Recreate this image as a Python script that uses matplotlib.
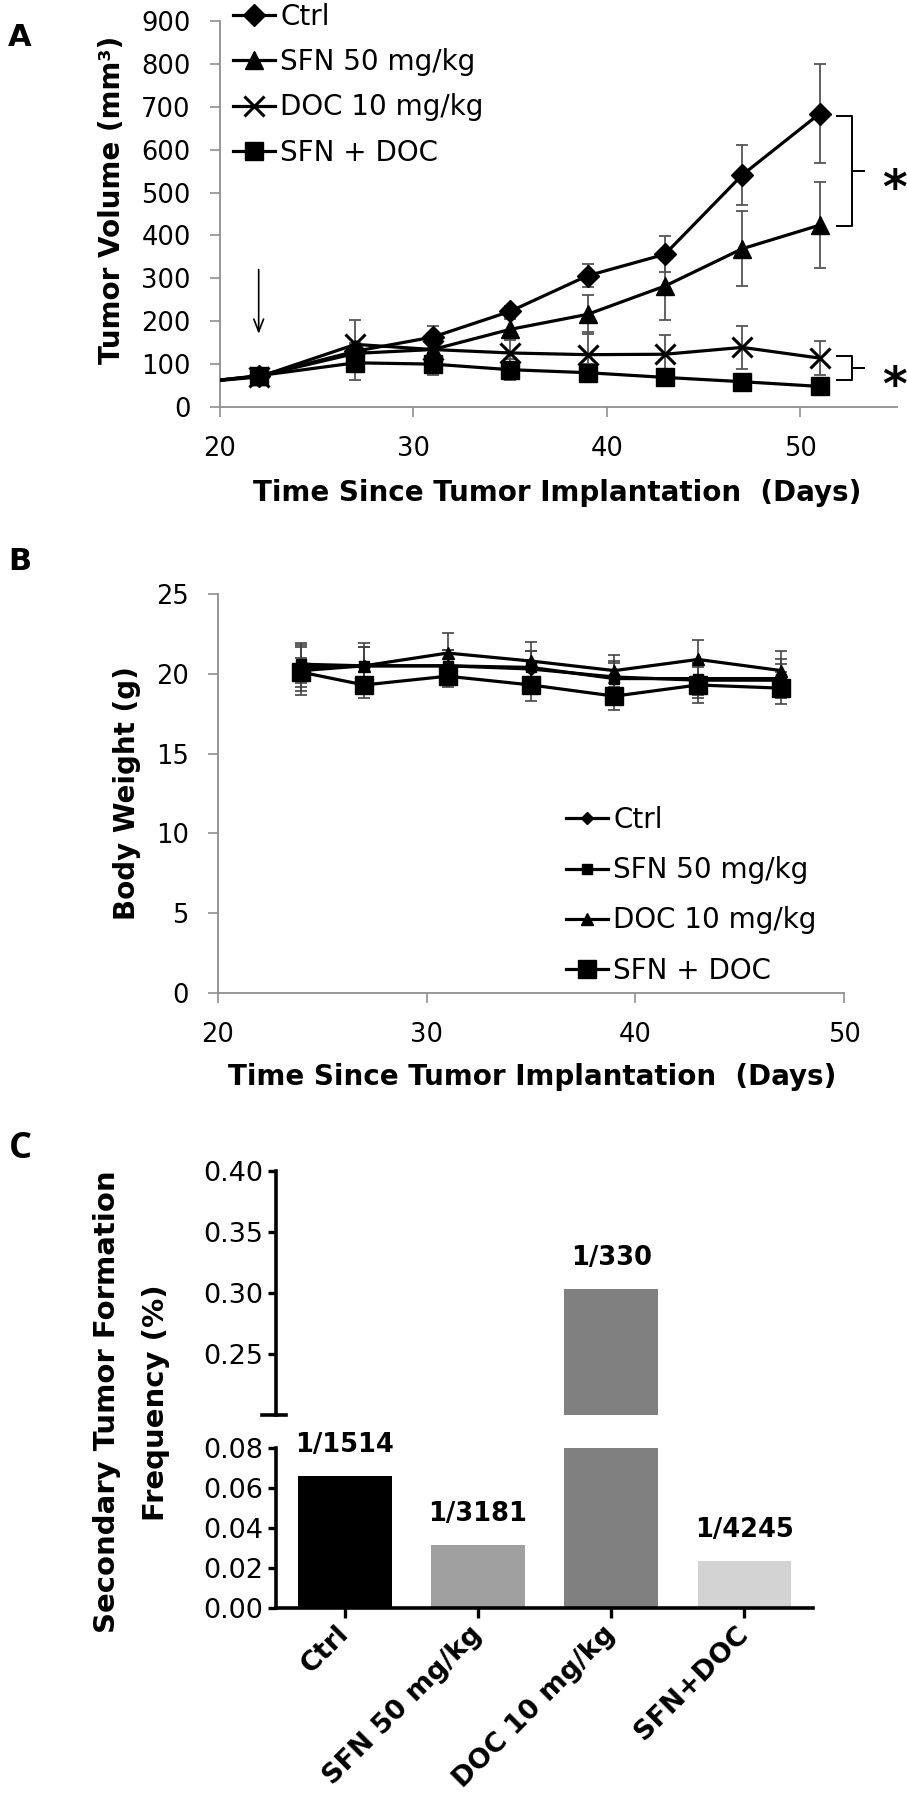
import matplotlib
matplotlib.use('Agg')
import matplotlib.pyplot as plt
from matplotlib.ticker import FormatStrFormatter

plt.rcParams['font.family'] = ['DejaVu Sans']

# ---------------- data ----------------
# Panel A: tumor volume (mm^3)
days_a = [19, 22, 27, 31, 35, 39, 43, 47, 51]
ctrl_a = [58, 72, 130, 163, 223, 306, 356, 541, 684]
ctrl_a_err = [0, 10, 20, 25, 12, 27, 42, 69, 115]
sfn_a = [58, 72, 125, 134, 181, 216, 282, 369, 424]
sfn_a_err = [0, 10, 20, 20, 25, 45, 80, 87, 100]
doc_a = [58, 70, 146, 134, 126, 122, 123, 139, 114]
doc_a_err = [0, 8, 57, 25, 40, 53, 44, 51, 40]
combo_a = [58, 73, 103, 100, 87, 80, 69, 59, 48]
combo_a_err = [0, 8, 40, 25, 25, 20, 15, 15, 20]
labels_a = ['Ctrl', 'SFN 50 mg/kg', 'DOC 10 mg/kg', 'SFN + DOC']

# Panel B: body weight (g)
days_b = [24, 27, 31, 35, 39, 43, 47]
ctrl_b = [20.2, 20.5, 20.5, 20.3, 19.8, 19.6, 19.6]
ctrl_b_err = [1.5, 1.2, 1.0, 1.1, 1.0, 1.1, 1.0]
sfn_b = [20.6, 20.5, 20.5, 20.4, 19.7, 19.7, 19.7]
sfn_b_err = [1.2, 1.2, 1.0, 1.0, 1.0, 1.0, 1.2]
doc_b = [20.4, 20.5, 21.3, 20.8, 20.2, 20.9, 20.2]
doc_b_err = [1.5, 1.4, 1.25, 1.2, 1.0, 1.2, 1.2]
combo_b = [20.1, 19.3, 19.85, 19.3, 18.6, 19.3, 19.1]
combo_b_err = [0.9, 0.8, 0.7, 1.0, 0.85, 1.1, 1.0]
labels_b = ['Ctrl', 'SFN 50 mg/kg', 'DOC 10 mg/kg', 'SFN + DOC']

# Panel C: secondary tumor formation frequency (%)
groups_c = ['Ctrl', 'SFN 50 mg/kg', 'DOC 10 mg/kg', 'SFN+DOC']
freq_c = [0.066, 0.0314, 0.303, 0.0236]
ratio_c = ['1/1514', '1/3181', '1/330', '1/4245']
colors_c = ['#000000', '#a0a0a0', '#808080', '#d3d3d3']

# ---------------- figure ----------------
W, H = 907, 1800
fig = plt.figure(figsize=(W / 100, H / 100), dpi=100)


def rect(l, t, r, b):
    return [l / W, 1 - b / H, (r - l) / W, (b - t) / H]


GREY = '#8f8f8f'


def style_xy(ax):
    for s in ['top', 'right']:
        ax.spines[s].set_visible(False)
    for s in ['left', 'bottom']:
        ax.spines[s].set_color(GREY)
        ax.spines[s].set_linewidth(1.3)
    ax.tick_params(axis='both', colors=GREY, labelcolor='black', width=1.2,
                   length=7.5, labelsize=18.5, pad=13.5)


# ---------------- Panel A ----------------
axA = fig.add_axes(rect(220, 21, 897, 407))
style_xy(axA)
series_a = [
    (ctrl_a, ctrl_a_err, 'D', 11.5),
    (sfn_a, sfn_a_err, '^', 13),
    (doc_a, doc_a_err, 'x', 14),
    (combo_a, combo_a_err, 's', 13),
]
handles_a = []
for (vals, err, mk, ms), lab in zip(series_a, labels_a):
    axA.errorbar(days_a[1:], vals[1:], yerr=err[1:], fmt='none',
                 ecolor='#555555', elinewidth=1.3, capsize=4, capthick=1.3,
                 zorder=2)
    ln, = axA.plot(days_a, vals, color='black', lw=2.3, marker=mk, ms=ms,
                   mew=2.2 if mk == 'x' else 1, mfc='black', mec='black',
                   markevery=list(range(1, len(days_a))), zorder=3, label=lab)
    handles_a.append(ln)
axA.set_xlim(20, 55)
axA.set_ylim(0, 900)
axA.set_xticks([20, 30, 40, 50])
axA.set_yticks(range(0, 901, 100))
axA.set_ylabel('Tumor Volume (mm³)', fontsize=20, fontweight='bold')
axA.yaxis.label.set_va('center')
axA.yaxis.set_label_coords(-0.1595, 0.536)
axA.set_xlabel('Time Since Tumor Implantation  (Days)', fontsize=20,
               fontweight='bold')
axA.xaxis.label.set_va('center')
axA.xaxis.set_label_coords(0.498, -0.2228)

# arrow at treatment start
axA.annotate('', xy=(days_a[1], 164), xytext=(days_a[1], 327),
             arrowprops=dict(arrowstyle='->,head_length=0.9,head_width=0.35',
                             color='black', lw=1.2))

# significance brackets
def bracket(ax, x0, x1, x2, ytop, ybot):
    ymid = (ytop + ybot) / 2
    kw = dict(color='black', lw=1.4, clip_on=False, solid_capstyle='butt')
    ax.plot([x0, x1, x1, x2], [ytop, ytop, ymid, ymid], **kw)
    ax.plot([x1, x1, x0], [ymid, ybot, ybot], **kw)

bracket(axA, 51.85, 52.65, 53.35, ctrl_a[-1] - 5, sfn_a[-1] - 3)
bracket(axA, 51.85, 52.65, 53.35, doc_a[-1] + 4, combo_a[-1] + 16)
axA.text(54.85, 505, '*', fontsize=34, fontweight='bold', ha='center',
         va='center', clip_on=False)
axA.text(54.85, 45, '*', fontsize=34, fontweight='bold', ha='center',
         va='center', clip_on=False)

axA.legend(handles_a, labels_a, loc='upper left',
           bbox_to_anchor=(233 / W, 1 - 3 / H), bbox_transform=fig.transFigure,
           frameon=False, borderpad=0, borderaxespad=0, handlelength=1.5,
           handletextpad=0.2, labelspacing=0.62, fontsize=20)

# ---------------- Panel B ----------------
axB = fig.add_axes(rect(218, 594, 844, 993))
style_xy(axB)
series_b = [
    (ctrl_b, ctrl_b_err, 'D', 6),
    (sfn_b, sfn_b_err, 's', 7),
    (doc_b, doc_b_err, '^', 8),
    (combo_b, combo_b_err, 's', 13),
]
handles_b = []
for (vals, err, mk, ms), lab in zip(series_b, labels_b):
    axB.errorbar(days_b, vals, yerr=err, fmt='none', ecolor='#444444',
                 elinewidth=1.2, capsize=4, capthick=1.2, zorder=2)
    ln, = axB.plot(days_b, vals, color='black', lw=2.3, marker=mk, ms=ms,
                   mfc='black', mec='black', zorder=3, label=lab)
    handles_b.append(ln)
axB.set_xlim(20, 50)
axB.set_ylim(0, 25)
axB.set_xticks([20, 30, 40, 50])
axB.set_yticks(range(0, 26, 5))
axB.set_ylabel('Body Weight (g)', fontsize=20, fontweight='bold')
axB.yaxis.label.set_va('center')
axB.yaxis.set_label_coords(-0.1454, 0.5)
axB.set_xlabel('Time Since Tumor Implantation  (Days)', fontsize=20,
               fontweight='bold')
axB.xaxis.label.set_va('center')
axB.xaxis.set_label_coords(0.5016, -0.2105)
axB.legend(handles_b, labels_b, loc='upper left',
           bbox_to_anchor=(566 / W, 1 - 806 / H), bbox_transform=fig.transFigure,
           frameon=False, borderpad=0, borderaxespad=0, handlelength=1.5,
           handletextpad=0.2, labelspacing=0.8, fontsize=20)

# ---------------- Panel C ----------------
xpos = list(range(len(groups_c)))
axCl = fig.add_axes(rect(276, 1448, 813, 1608))
axCu = fig.add_axes(rect(276, 1171, 813, 1415), sharex=axCl)
for ax in (axCl, axCu):
    ax.bar(xpos, freq_c, width=0.705, color=colors_c, edgecolor='none')
    ax.spines['top'].set_visible(False)
    ax.spines['right'].set_visible(False)
    ax.spines['left'].set_linewidth(2.6)
    ax.spines['bottom'].set_linewidth(2.6)
    ax.tick_params(axis='y', width=2.4, length=6, labelsize=19.5, pad=3)
    ax.yaxis.set_major_formatter(FormatStrFormatter('%.2f'))
axCl.set_xlim(-0.515, 3.514)
axCl.set_ylim(0, 0.08)
axCl.set_yticks([0, 0.02, 0.04, 0.06, 0.08])
axCl.tick_params(axis='x', width=2.4, length=7, pad=9)
axCl.set_xticks(xpos)
axCl.set_xticklabels(groups_c, rotation=45, ha='right', va='center',
                     rotation_mode='anchor', fontsize=19.5, fontweight='bold')
axCu.set_ylim(0.2, 0.4)
axCu.set_yticks([0.25, 0.30, 0.35, 0.40])
axCu.spines['bottom'].set_visible(False)
axCu.tick_params(axis='x', bottom=False, labelbottom=False)
axCu.plot([-0.027, 0.019], [0, 0], transform=axCu.transAxes, color='black',
          lw=2.6, clip_on=False)

for i, (v, t) in enumerate(zip(freq_c, ratio_c)):
    ax = axCu if v > 0.08 else axCl
    ax.annotate(t, xy=(xpos[i], v), xytext=(0, 13), textcoords='offset points',
                ha='center', va='bottom', fontsize=18.5, fontweight='bold')

fig.text(107 / W, 1 - 1402 / H, 'Secondary Tumor Formation', rotation=90,
         ha='center', va='center', fontsize=21, fontweight='bold')
fig.text(156 / W, 1 - 1403 / H, 'Frequency (%)', rotation=90,
         ha='center', va='center', fontsize=21, fontweight='bold')

# panel letters
fig.text(20 / W, 1 - 38 / H, 'A', fontsize=22, fontweight='bold',
         ha='center', va='center')
fig.text(20 / W, 1 - 562 / H, 'B', fontsize=22, fontweight='bold',
         ha='center', va='center')
fig.text(20 / W, 1 - 1149 / H, 'C', fontsize=26, fontweight='bold',
         ha='center', va='center', family=['Open Sans', 'DejaVu Sans'])

fig.savefig('out.png', dpi=100)
